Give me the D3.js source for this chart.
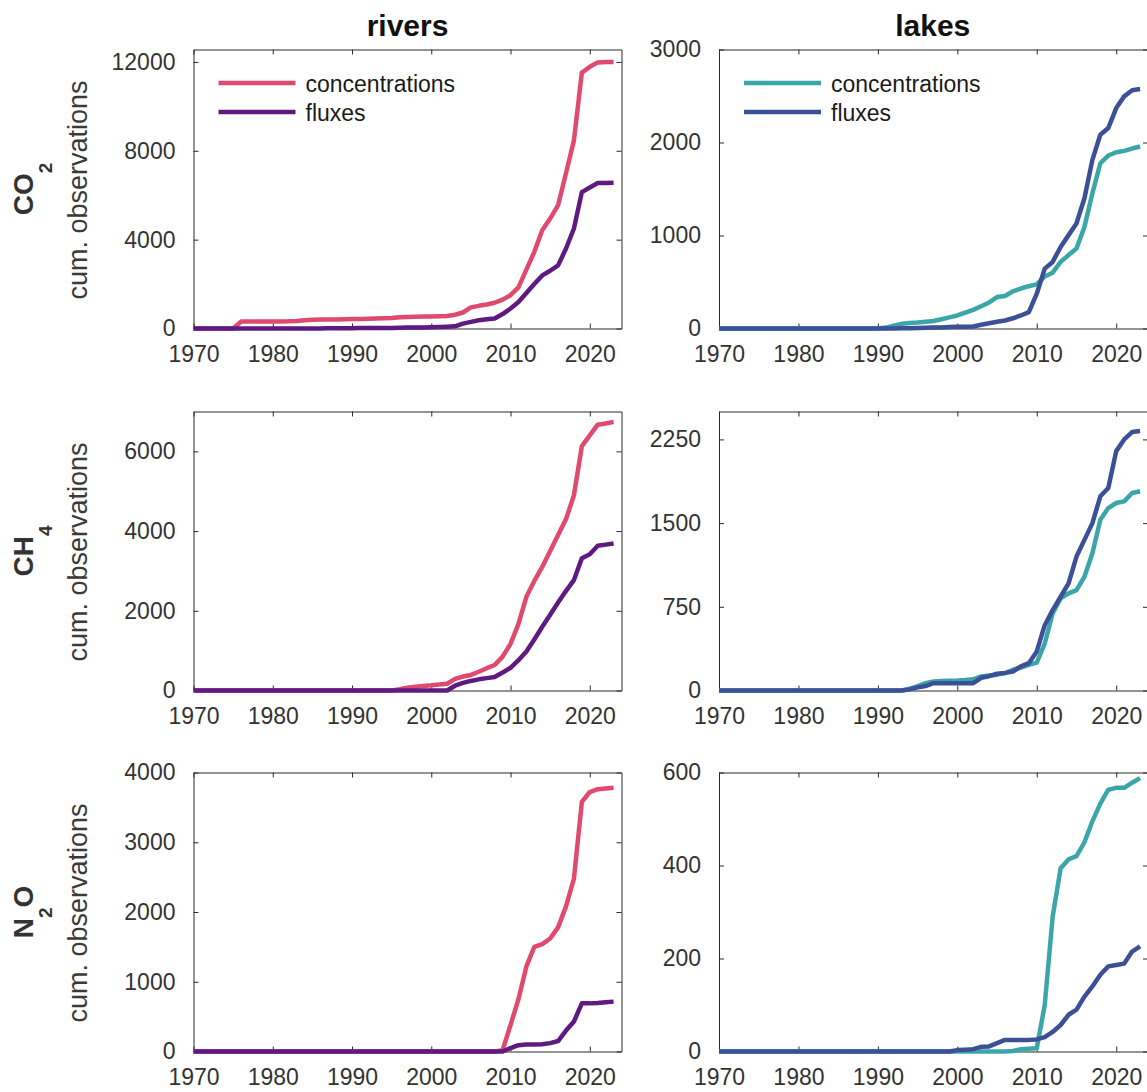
<!DOCTYPE html>
<html>
<head>
<meta charset="utf-8">
<script src="https://cdn.jsdelivr.net/npm/d3@7"></script>
<style>
  body { margin: 0; background: #ffffff; }
  svg { display: block; }
  text { font-family: "Liberation Sans", Arial, Helvetica, sans-serif; }
</style>
</head>
<body>
<svg id="chart" width="1147" height="1092"></svg>
<script>
// ---------------- DATA ----------------
const years = [1970,1971,1972,1973,1974,1975,1976,1977,1978,1979,
               1980,1981,1982,1983,1984,1985,1986,1987,1988,1989,
               1990,1991,1992,1993,1994,1995,1996,1997,1998,1999,
               2000,2001,2002,2003,2004,2005,2006,2007,2008,2009,
               2010,2011,2012,2013,2014,2015,2016,2017,2018,2019,
               2020,2021,2022,2023];

const columnTitles = ["rivers", "lakes"];
const seriesLabels = ["concentrations", "fluxes"];
const xTicks = [1970, 1980, 1990, 2000, 2010, 2020];

// rivers CO2
const riversCO2Conc = [0,0,0,0,0,0,310,310,315,318,
                       320,320,325,340,370,390,400,405,410,420,
                       425,430,440,450,460,470,510,520,525,535,
                       545,550,560,620,720,950,1020,1080,1160,1300,
                       1500,1850,2650,3450,4420,4950,5550,7000,8470,11520,
                       11780,11980,12000,12000];
const riversCO2Flux = [0,0,0,0,0,0,0,0,0,0,
                       0,0,0,0,0,0,5,8,10,12,
                       15,18,20,22,25,28,35,40,45,50,
                       55,65,80,100,220,300,370,420,450,650,
                       900,1190,1600,2000,2390,2600,2840,3600,4500,6140,
                       6350,6550,6550,6560];
// lakes CO2
const lakesCO2Conc = [0,0,0,0,0,0,0,0,0,0,
                      0,0,0,0,0,0,0,0,0,0,
                      0,10,30,50,60,65,72,80,100,120,
                      140,170,200,240,280,338,350,400,430,455,
                      475,560,600,716,790,860,1093,1453,1777,1860,
                      1895,1910,1935,1957];
const lakesCO2Flux = [0,0,0,0,0,0,0,0,0,0,
                      0,0,0,0,0,0,0,0,0,0,
                      0,0,0,2,4,6,8,10,12,15,
                      18,20,22,40,57,72,86,110,140,176,
                      374,644,716,877,1004,1130,1400,1813,2083,2155,
                      2370,2496,2561,2575];
// rivers CH4
const riversCH4Conc = [0,0,0,0,0,0,0,0,0,0,
                       0,0,0,0,0,0,0,0,0,0,
                       0,0,0,0,0,0,30,70,95,115,
                       130,150,170,290,350,390,470,560,640,850,
                       1170,1670,2350,2750,3100,3500,3900,4300,4900,6130,
                       6400,6670,6700,6740];
const riversCH4Flux = [0,0,0,0,0,0,0,0,0,0,
                       0,0,0,0,0,0,0,0,0,0,
                       0,0,0,0,0,0,0,0,0,0,
                       0,0,0,120,190,240,280,310,340,450,
                       570,760,980,1280,1600,1900,2210,2500,2770,3320,
                       3420,3630,3660,3690];
// lakes CH4
const lakesCH4Conc = [0,0,0,0,0,0,0,0,0,0,
                      0,0,0,0,0,0,0,0,0,0,
                      0,0,0,0,15,40,65,80,85,88,
                      90,94,100,126,135,142,155,186,205,230,
                      250,420,690,825,870,900,1020,1230,1530,1635,
                      1680,1695,1770,1785];
const lakesCH4Flux = [0,0,0,0,0,0,0,0,0,0,
                      0,0,0,0,0,0,0,0,0,0,
                      0,0,0,0,10,28,40,66,66,66,
                      66,66,66,114,128,150,158,170,216,245,
                      350,585,720,840,960,1200,1350,1500,1740,1815,
                      2145,2250,2316,2325];
// rivers N2O
const riversN2OConc = [0,0,0,0,0,0,0,0,0,0,
                       0,0,0,0,0,0,0,0,0,0,
                       0,0,0,0,0,0,0,0,0,0,
                       0,0,0,0,0,0,0,0,0,20,
                       380,750,1220,1500,1540,1620,1780,2080,2480,3580,
                       3720,3760,3770,3780];
const riversN2OFlux = [0,0,0,0,0,0,0,0,0,0,
                       0,0,0,0,0,0,0,0,0,0,
                       0,0,0,0,0,0,0,0,0,0,
                       0,0,0,0,0,0,0,0,0,0,
                       50,90,100,100,105,120,150,300,430,690,
                       690,695,705,715];
// lakes N2O
const lakesN2OConc = [0,0,0,0,0,0,0,0,0,0,
                      0,0,0,0,0,0,0,0,0,0,
                      0,0,0,0,0,0,0,0,0,0,
                      0,0,0,0,0,0,0,1,5,6,
                      7,100,290,394,413,420,450,495,533,563,
                      567,567,578,588];
const lakesN2OFlux = [0,0,0,0,0,0,0,0,0,0,
                      0,0,0,0,0,0,0,0,0,0,
                      0,0,0,0,0,0,0,0,0,0,
                      3,4,5,10,11,18,25,25,25,25,
                      26,31,42,57,79,90,118,140,165,183,
                      186,189,215,226];

// y ticks and y-axis maxima per panel
const riversCO2Ticks = [0, 4000, 8000, 12000];
const lakesCO2Ticks  = [0, 1000, 2000, 3000];
const riversCH4Ticks = [0, 2000, 4000, 6000];
const lakesCH4Ticks  = [0, 750, 1500, 2250];
const riversN2OTicks = [0, 1000, 2000, 3000, 4000];
const lakesN2OTicks  = [0, 200, 400, 600];
const riversYMax = [12560, 7000, 4000];
const lakesYMax  = [3000, 2500, 600];

// ---------------- STYLE / LAYOUT ----------------
const colors = {
  rivers: ["#E04A6E", "#5E1A80"],
  lakes:  ["#3AA6A9", "#3B5097"]
};
const colX = [[193.5, 621.5], [719, 1148]];
const rowY = [[49.5, 328.5], [411.5, 690.5], [772.5, 1051.5]];
const gasLabels = [
  [{t: "CO"}, {t: "2", sub: true}],
  [{t: "CH"}, {t: "4", sub: true}],
  [{t: "N"}, {t: "2", sub: true}, {t: "O"}]
];

const panels = [
  {row: 0, col: 0, conc: riversCO2Conc, flux: riversCO2Flux, ticks: riversCO2Ticks, ymax: riversYMax[0]},
  {row: 0, col: 1, conc: lakesCO2Conc,  flux: lakesCO2Flux,  ticks: lakesCO2Ticks,  ymax: lakesYMax[0]},
  {row: 1, col: 0, conc: riversCH4Conc, flux: riversCH4Flux, ticks: riversCH4Ticks, ymax: riversYMax[1]},
  {row: 1, col: 1, conc: lakesCH4Conc,  flux: lakesCH4Flux,  ticks: lakesCH4Ticks,  ymax: lakesYMax[1]},
  {row: 2, col: 0, conc: riversN2OConc, flux: riversN2OFlux, ticks: riversN2OTicks, ymax: riversYMax[2]},
  {row: 2, col: 1, conc: lakesN2OConc,  flux: lakesN2OFlux,  ticks: lakesN2OTicks,  ymax: lakesYMax[2]}
];

const svg = d3.select("#chart");
const axisColor = "#2b2b2b";
const labelColor = "#333333";
const tickLen = 5;

panels.forEach(p => {
  const [x0, x1] = colX[p.col];
  const [y0, y1] = rowY[p.row];
  const x = d3.scaleLinear().domain([1970, 2024]).range([x0, x1]);
  const y = d3.scaleLinear().domain([0, p.ymax]).range([y1, y0]);
  const g = svg.append("g");

  const bottom = g.append("g").attr("transform", `translate(0,${y1})`)
    .call(d3.axisBottom(x).tickValues(xTicks).tickFormat(d3.format("d")).tickSizeInner(-tickLen).tickSizeOuter(0).tickPadding(17));
  const top = g.append("g").attr("transform", `translate(0,${y0})`)
    .call(d3.axisTop(x).tickValues(xTicks).tickFormat("").tickSizeInner(-tickLen).tickSizeOuter(0));
  const left = g.append("g").attr("transform", `translate(${x0},0)`)
    .call(d3.axisLeft(y).tickValues(p.ticks).tickFormat(d3.format("d")).tickSizeInner(-tickLen).tickSizeOuter(0).tickPadding(18));
  const right = g.append("g").attr("transform", `translate(${x1},0)`)
    .call(d3.axisRight(y).tickValues(p.ticks).tickFormat("").tickSizeInner(-tickLen).tickSizeOuter(0));

  [bottom, top, left, right].forEach(a => {
    a.select(".domain").attr("stroke", axisColor).attr("stroke-width", 1);
    a.selectAll(".tick line").attr("stroke", axisColor).attr("stroke-width", 1);
    a.selectAll(".tick text").attr("fill", labelColor).attr("font-size", 23)
      .attr("font-family", "'Liberation Sans', Arial, Helvetica, sans-serif");
  });
  bottom.selectAll(".tick text").attr("dy", "0.71em");

  const line = d3.line().x((d, i) => x(years[i])).y(d => y(d));
  const cols = colors[p.col === 0 ? "rivers" : "lakes"];
  [p.conc, p.flux].forEach((s, k) => {
    g.append("path").datum(s)
      .attr("d", line)
      .attr("fill", "none")
      .attr("stroke", cols[k])
      .attr("stroke-width", 4.5)
      .attr("stroke-linejoin", "round")
      .attr("stroke-linecap", "butt");
  });

  if (p.row === 0) {
    seriesLabels.forEach((lab, k) => {
      const ly = y0 + 33.5 + k * 29;
      g.append("line")
        .attr("x1", x0 + 25).attr("x2", x0 + 102)
        .attr("y1", ly).attr("y2", ly)
        .attr("stroke", cols[k]).attr("stroke-width", 4.5);
      g.append("text")
        .attr("x", x0 + 112).attr("y", ly + 9)
        .attr("font-size", 23).attr("fill", "#1a1a1a")
        .text(lab);
    });
    svg.append("text")
      .attr("x", (x0 + Math.min(x1, 1147.5)) / 2 + (p.col === 1 ? -0.5 : 0))
      .attr("y", 36)
      .attr("text-anchor", "middle")
      .attr("font-size", 30).attr("font-weight", "bold").attr("fill", "#111111")
      .text(columnTitles[p.col]);
  }

  if (p.col === 0) {
    const cy = (y0 + y1) / 2;
    const t = svg.append("text")
      .attr("transform", `translate(33,${cy}) rotate(-90)`)
      .attr("text-anchor", "middle")
      .attr("font-size", 28).attr("font-weight", "bold").attr("fill", "#333333");
    let shifted = false;
    gasLabels[p.row].forEach(part => {
      const ts = t.append("tspan").text(part.t);
      if (part.sub) { ts.attr("font-size", 19).attr("dy", 19); shifted = true; }
      else if (shifted) { ts.attr("dy", -19); shifted = false; }
    });
    svg.append("text")
      .attr("transform", `translate(87,${cy + 1}) rotate(-90)`)
      .attr("text-anchor", "middle")
      .attr("font-size", 27).attr("fill", "#3a3a3a")
      .text("cum. observations");
  }
});
</script>
</body>
</html>
